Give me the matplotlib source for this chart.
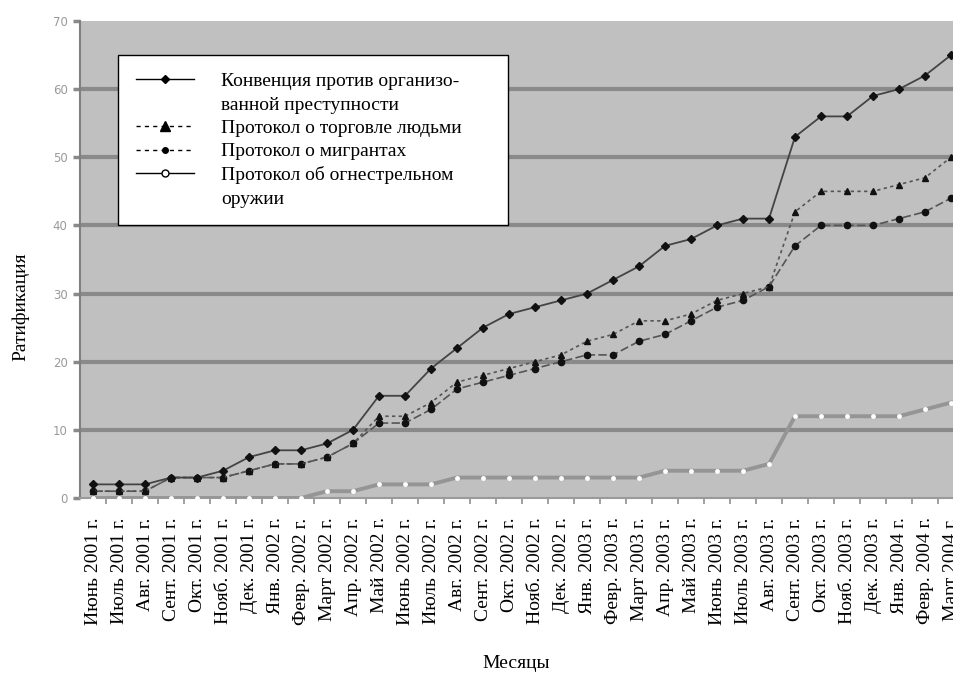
"""
Ratification of the organized crime convention and its protocols, 2001-2004.
"""

import matplotlib.pyplot as plt
from matplotlib.lines import Line2D
import numpy as np

plt.rcParams["font.family"] = ["Liberation Serif", "DejaVu Serif"]

MONTHS = [
    "Июнь 2001 г.", "Июль 2001 г.", "Авг. 2001 г.", "Сент. 2001 г.",
    "Окт. 2001 г.", "Нояб. 2001 г.", "Дек. 2001 г.", "Янв. 2002 г.",
    "Февр. 2002 г.", "Март 2002 г.", "Апр. 2002 г.", "Май 2002 г.",
    "Июнь 2002 г.", "Июль 2002 г.", "Авг. 2002 г.", "Сент. 2002 г.",
    "Окт. 2002 г.", "Нояб. 2002 г.", "Дек. 2002 г.", "Янв. 2003 г.",
    "Февр. 2003 г.", "Март 2003 г.", "Апр. 2003 г.", "Май 2003 г.",
    "Июнь 2003 г.", "Июль 2003 г.", "Авг. 2003 г.", "Сент. 2003 г.",
    "Окт. 2003 г.", "Нояб. 2003 г.", "Дек. 2003 г.", "Янв. 2004 г.",
    "Февр. 2004 г.", "Март 2004 г.",
]

convention = [2, 2, 2, 3, 3, 4, 6, 7, 7, 8, 10, 15, 15, 19, 22, 25, 27, 28, 29,
              30, 32, 34, 37, 38, 40, 41, 41, 53, 56, 56, 59, 60, 62, 65]
trafficking = [1, 1, 1, 3, 3, 3, 4, 5, 5, 6, 8, 12, 12, 14, 17, 18, 19, 20, 21,
               23, 24, 26, 26, 27, 29, 30, 31, 42, 45, 45, 45, 46, 47, 50]
migrants = [1, 1, 1, 3, 3, 3, 4, 5, 5, 6, 8, 11, 11, 13, 16, 17, 18, 19, 20,
            21, 21, 23, 24, 26, 28, 29, 31, 37, 40, 40, 40, 41, 42, 44]
firearms = [0, 0, 0, 0, 0, 0, 0, 0, 0, 1, 1, 2, 2, 2, 3, 3, 3, 3, 3,
            3, 3, 3, 4, 4, 4, 4, 5, 12, 12, 12, 12, 12, 13, 14]

Y_TICKS = [0, 10, 20, 30, 40, 50, 60, 70]

W, H = 954, 673
fig = plt.figure(figsize=(W / 100, H / 100), dpi=100)
# plot area runs past the right edge, like the cropped original
ax = fig.add_axes([80 / W, (H - 498) / H, (964 - 80) / W, (498 - 21) / H])

x = np.arange(len(MONTHS))
ax.set_facecolor("#c0c0c0")

for yv in Y_TICKS[1:-1]:
    ax.axhline(yv, color="#8a8a8a", linewidth=3, zorder=1)

ax.plot(x, firearms, color="#959595", linewidth=2.8, marker="o",
        markersize=3.5, markerfacecolor="white", markeredgewidth=0, zorder=3)
ax.plot(x, migrants, color="#555555", linewidth=1.2, linestyle=(0, (5, 2)),
        marker="o", markersize=4.5, markerfacecolor="#111111",
        markeredgecolor="#111111", zorder=4)
ax.plot(x, trafficking, color="#555555", linewidth=1.2, linestyle=(0, (2, 2)),
        marker="^", markersize=5, markerfacecolor="#111111",
        markeredgecolor="#111111", zorder=4)
ax.plot(x, convention, color="#444444", linewidth=1.3, marker="D",
        markersize=4, markerfacecolor="#111111", markeredgecolor="#111111",
        zorder=5)

ax.set_xlim(-0.5, len(MONTHS) - 0.5)
ax.set_ylim(0, 70)
ax.set_yticks(Y_TICKS)
ax.set_yticklabels([str(v) for v in Y_TICKS], family="DejaVu Sans",
                   fontsize=8.5, color="#9a9a9a")
ax.tick_params(axis="y", length=5, width=2.5, color="#8a8a8a", pad=4)

ax.set_xticks(x)
ax.set_xticklabels(MONTHS, rotation=90, fontsize=14, va="top")
ax.set_xticks(x[:-1] + 0.5, minor=True)
ax.tick_params(axis="x", which="major", length=0, pad=14)
ax.tick_params(axis="x", which="minor", length=4, width=1.2, color="#909090")

for side in ("top", "right"):
    ax.spines[side].set_visible(False)
ax.spines["left"].set_color("#808080")
ax.spines["left"].set_linewidth(1.5)
ax.spines["bottom"].set_color("#9a9a9a")
ax.spines["bottom"].set_linewidth(1.5)

fig.text(516 / W, 1 - 663 / H, "Месяцы", fontsize=14, ha="center", va="center")
fig.text(21 / W, 1 - 307 / H, "Ратификация", fontsize=14, rotation=90,
         ha="center", va="center")

blank = Line2D([], [], linestyle="none")
handles = [
    Line2D([], [], color="black", linewidth=1, marker="D", markersize=4),
    blank,
    Line2D([], [], color="black", linewidth=1, linestyle=(0, (3, 3)),
           marker="^", markersize=7),
    Line2D([], [], color="black", linewidth=1, linestyle=(0, (3, 3)),
           marker="o", markersize=4),
    Line2D([], [], color="black", linewidth=1, marker="o", markersize=5,
           markerfacecolor="white"),
    blank,
]
labels = [
    "Конвенция против организо-",
    "ванной преступности",
    "Протокол о торговле людьми",
    "Протокол о мигрантах",
    "Протокол об огнестрельном",
    "оружии",
]
leg = fig.legend(
    handles, labels,
    loc="upper left",
    bbox_to_anchor=(118 / W, 1 - 222 / H, 390 / W, 167 / H),
    mode="expand",
    borderaxespad=0,
    fontsize=14,
    handlelength=3.0,
    handletextpad=1.4,
    labelspacing=0.30,
    borderpad=0.9,
    fancybox=False,
    framealpha=1,
    edgecolor="black",
)
leg.get_frame().set_linewidth(1.0)

fig.savefig("out.png", dpi=100)
